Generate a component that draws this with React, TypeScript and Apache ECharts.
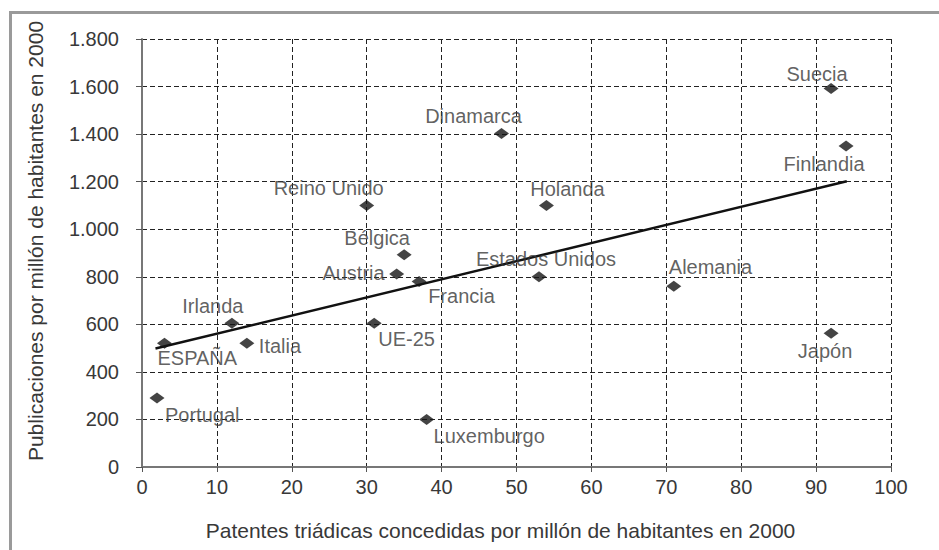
import React, { useEffect, useRef } from "react";
import * as echarts from "echarts";

const countries = [
  "Portugal", "ESPAÑA", "Irlanda", "Italia", "UE-25", "Luxemburgo", "Austria", "Francia",
  "Bélgica", "Reino Unido", "Dinamarca", "Holanda", "Estados Unidos", "Alemania", "Japón",
  "Suecia", "Finlandia",
];
const patents = [2, 3, 12, 14, 31, 38, 34, 37, 35, 30, 48, 54, 53, 71, 92, 92, 94];
const publications = [290, 520, 605, 520, 605, 200, 812, 780, 893, 1100, 1403, 1100, 800, 760, 562, 1592, 1350];

const trendX = [1.8, 94.1];
const trendY = [498, 1202];

const xTicks = { min: 0, max: 100, step: 10 };
const yTicks = { min: 0, max: 1800, step: 200 };

const xTitle = "Patentes triádicas concedidas por millón de habitantes en 2000";
const yTitle = "Publicaciones por millón de habitantes en 2000";

// label placement (relative to marker centre): [dx, dy, align]
const labelPlacement: Record<string, [number, number, string]> = {
  "Portugal": [8, 17, "left"],
  "ESPAÑA": [-7, 15, "left"],
  "Irlanda": [-19, -17, "center"],
  "Italia": [12, 3, "left"],
  "UE-25": [4, 16, "left"],
  "Luxemburgo": [7, 17, "left"],
  "Austria": [-12, -1, "right"],
  "Francia": [9, 14, "left"],
  "Bélgica": [-27, -17, "center"],
  "Reino Unido": [-38, -17, "center"],
  "Dinamarca": [-28, -17, "center"],
  "Holanda": [21, -16, "center"],
  "Estados Unidos": [7, -18, "center"],
  "Alemania": [-5, -19, "left"],
  "Japón": [-6, 18, "center"],
  "Suecia": [-14, -14, "center"],
  "Finlandia": [-22, 18, "center"],
};

const FONT = "'Liberation Sans', Arial, Helvetica, sans-serif";
const TEXT = "#383838";

function fmt(v: number) {
  return String(v).replace(/\B(?=(\d{3})+(?!\d))/g, ".");
}

export default function App() {
  const ref = useRef<HTMLDivElement>(null);
  useEffect(() => {
    if (!ref.current) return;
    const chart = echarts.init(ref.current, undefined, { renderer: "svg" });
    const scatterData = countries.map((name, i) => {
      const p = labelPlacement[name] || [0, -16, "center"];
      return {
        name,
        value: [patents[i], publications[i]],
        label: {
          show: true,
          position: "inside",
          offset: [p[0], p[1]],
          align: p[2],
          verticalAlign: "middle",
          formatter: name,
        },
      };
    });
    const gridLine = { type: [5, 3] as any, color: "#222", width: 1 };
    chart.setOption({
      animation: false,
      backgroundColor: "#fff",
      textStyle: { fontFamily: FONT },
      graphic: [
        {
          type: "rect",
          z: -10,
          shape: { x: 10.5, y: 12.5, width: 1000, height: 700 },
          style: { fill: "none", stroke: "#9a9a9a", lineWidth: 3 },
        },
      ],
      grid: { left: 142, top: 39, width: 749, height: 428, containLabel: false },
      xAxis: {
        type: "value",
        min: xTicks.min,
        max: xTicks.max,
        interval: xTicks.step,
        name: xTitle,
        nameLocation: "middle",
        nameGap: 53,
        nameTextStyle: { fontSize: 21, color: TEXT, fontFamily: FONT, padding: [0, 32, 0, 0] },
        axisLine: { show: true, onZero: false, lineStyle: { color: "#777", width: 2 } },
        axisTick: { show: true, length: 5, lineStyle: { color: "#555", width: 1 } },
        axisLabel: { fontSize: 20, color: TEXT, fontFamily: FONT, margin: 10 },
        splitLine: { show: true, lineStyle: gridLine },
      },
      yAxis: {
        type: "value",
        min: yTicks.min,
        max: yTicks.max,
        interval: yTicks.step,
        name: yTitle,
        nameLocation: "middle",
        nameGap: 96,
        nameTextStyle: { fontSize: 21, color: TEXT, fontFamily: FONT, padding: [0, 0, 0, 24] },
        axisLine: { show: true, onZero: false, lineStyle: { color: "#777", width: 2 } },
        axisTick: { show: true, length: 6, lineStyle: { color: "#555", width: 1 } },
        axisLabel: { fontSize: 20, color: TEXT, fontFamily: FONT, margin: 23, formatter: (v: number) => fmt(v) },
        splitLine: { show: true, lineStyle: gridLine },
      },
      series: [
        {
          type: "line",
          data: trendX.map((x, i) => [x, trendY[i]]),
          showSymbol: false,
          symbol: "none",
          lineStyle: { color: "#111", width: 2.5 },
          z: 2,
          silent: true,
        },
        {
          type: "scatter",
          data: scatterData,
          symbol: "diamond",
          symbolSize: [15, 11],
          itemStyle: { color: "#151515" },
          label: { fontSize: 20, color: TEXT, fontFamily: FONT },
          z: 3,
        },
      ],
    });
    return () => chart.dispose();
  }, []);
  return (
    <div
      ref={ref}
      style={{ position: "fixed", left: 0, top: 0, width: 939, height: 550, background: "#fff" }}
    />
  );
}
